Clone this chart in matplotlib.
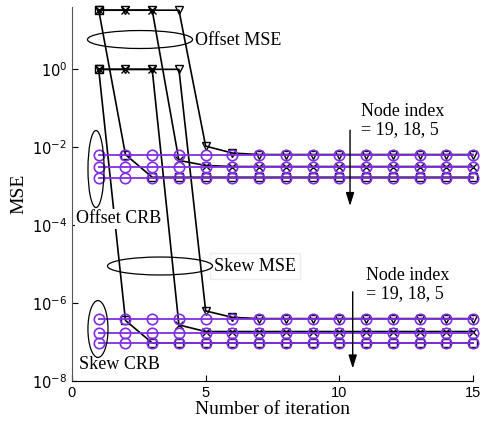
import matplotlib
matplotlib.use("Agg")
import matplotlib.pyplot as plt
from matplotlib.patches import Ellipse
import numpy as np

iters = list(range(1, 16))

# Offset MSE (node 19, 18, 5)
off_mse_19 = [33, 33, 33, 33, 0.0107, 0.0071] + [0.0065] * 9
off_mse_18 = [33, 33, 33, 0.0046, 0.0034] + [0.0032] * 10
off_mse_5 = [33, 0.0065] + [0.0017] * 13
# Offset CRB
off_crb = [0.0064, 0.0031, 0.0016]

# Skew MSE (node 19, 18, 5)
skew_mse_19 = [1, 1, 1, 1, 6.3e-7, 4.3e-7] + [4.0e-7] * 9
skew_mse_18 = [1, 1, 1, 2.75e-7] + [1.86e-7] * 11
skew_mse_5 = [1, 3.6e-7] + [9.5e-8] * 13
# Skew CRB
skew_crb = [4.0e-7, 1.75e-7, 9.5e-8]

xticks = [0, 5, 10, 15]
yticks = [1e-8, 1e-6, 1e-4, 1e-2, 1e0]
yticklabels = [r"$10^{-8}$", r"$10^{-6}$", r"$10^{-4}$", r"$10^{-2}$", r"$10^{0}$"]

purple = "#7f2fe3"
serif = ["Liberation Serif", "DejaVu Serif"]
sans = ["Liberation Sans", "DejaVu Sans"]

fig = plt.figure(figsize=(4.87, 4.25), dpi=100)
ax = fig.add_axes([0.1478, 0.1035, 0.8235, 0.88])
ax.set_yscale("log")

mk = dict(color="k", lw=1.2, mfc="none", mec="k", mew=1.0, ms=6, clip_on=False)
for series, m in [(off_mse_19, "v"), (off_mse_18, "x"), (off_mse_5, "s"),
                  (skew_mse_19, "v"), (skew_mse_18, "x"), (skew_mse_5, "s")]:
    ax.plot(iters, series, marker=m, **mk)

for v in off_crb + skew_crb:
    ax.plot(iters, [v] * len(iters), color=purple, lw=1.3, marker="o",
            mfc="none", mec=purple, mew=1.2, ms=7.5, clip_on=False)

ax.set_xlim(0, 15)
ax.set_ylim(1e-8, 10 ** 1.6)
ax.set_xticks(xticks)
ax.set_xticklabels([str(t) for t in xticks], fontfamily=sans, fontsize=10.5)
ax.set_yticks(yticks)
ax.set_yticklabels(yticklabels, fontsize=10.5)
ax.minorticks_off()
ax.tick_params(direction="in", length=4, width=0.8)
for t in ax.get_yticklabels():
    t.set_fontfamily(sans)
ax.spines["top"].set_visible(False)
ax.spines["right"].set_visible(False)
ax.spines["left"].set_color("#555555")
ax.spines["bottom"].set_color("k")

ax.set_xlabel("Number of iteration", fontfamily=serif, fontsize=14, labelpad=1)
ax.set_ylabel("MSE", fontfamily=serif, fontsize=14, labelpad=3)

tkw = dict(fontfamily=serif, fontsize=13, va="center", ha="left")
wbox = dict(facecolor="white", edgecolor="none", pad=1)
ax.text(4.6, 10 ** 0.746, "Offset MSE", **tkw)
ax.text(0.15, 10 ** -3.84, "Offset CRB", bbox=wbox, **tkw)
ax.text(5.31, 10 ** -5.05, "Skew MSE",
        bbox=dict(facecolor="white", edgecolor="#eeeeee", pad=3), **tkw)
ax.text(0.26, 10 ** -7.57, "Skew CRB", bbox=wbox, **tkw)

ax.text(10.81, 10 ** -1.31, "Node index\n= 19, 18, 5", fontfamily=serif,
        fontsize=13, va="center", ha="left", linespacing=1.05)
ax.text(11.0, 10 ** -5.52, "Node index\n= 19, 18, 5", fontfamily=serif,
        fontsize=13, va="center", ha="left", linespacing=1.05)

akw = dict(arrowstyle="-|>,head_length=0.8,head_width=0.25", color="k", lw=1.0)
ax.annotate("", xy=(10.4, 10 ** -3.58), xytext=(10.4, 10 ** -1.49), arrowprops=akw)
ax.annotate("", xy=(10.5, 10 ** -7.75), xytext=(10.5, 10 ** -5.64), arrowprops=akw)

ekw = dict(transform=ax.transAxes, fill=False, edgecolor="k", lw=0.9, zorder=5)
ax.add_patch(Ellipse((0.1696, 0.9131), 0.262, 0.048, **ekw))
ax.add_patch(Ellipse((0.0599, 0.5668), 0.040, 0.206, **ekw))
ax.add_patch(Ellipse((0.2195, 0.3075), 0.262, 0.048, **ekw))
ax.add_patch(Ellipse((0.0648, 0.139), 0.050, 0.152, **ekw))

fig.savefig("out.png", dpi=100)
